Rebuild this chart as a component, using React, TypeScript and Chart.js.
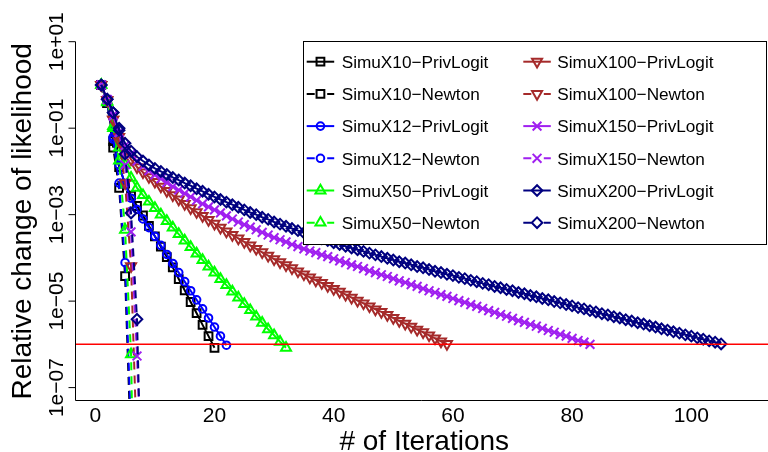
import React, { useEffect, useRef } from 'react';
import { Chart, registerables } from 'chart.js';
import { drawPoint } from 'chart.js/helpers';

Chart.register(...registerables);

// ---------- data (log10 of relative change of likelihood, iteration = index + 1) ----------
const x10PrivLogit = [0, -0.42, -1.3, -1.9, -2.28, -2.56, -2.8, -3.02, -3.26, -3.5, -3.74, -3.98, -4.22, -4.49, -4.75, -5.02, -5.28, -5.55, -5.81, -6.08];
const x10Newton = [0, -0.42, -1.45, -2.38, -4.42, -8.5];
const x12PrivLogit = [0, -0.4, -1.2, -1.85, -2.3, -2.62, -2.88, -3.1, -3.3, -3.5, -3.71, -3.92, -4.13, -4.34, -4.55, -4.76, -4.97, -5.18, -5.39, -5.6, -5.81, -6.02];
const x12Newton = [0, -0.4, -1.25, -2.27, -4.11, -8.0];
const x50PrivLogit = [0, -0.4, -0.95, -1.45, -1.85, -2.15, -2.38, -2.55, -2.7, -2.85, -3.0, -3.15, -3.3, -3.45, -3.6, -3.75, -3.9, -4.05, -4.2, -4.34, -4.49, -4.63, -4.78, -4.92, -5.07, -5.21, -5.36, -5.5, -5.65, -5.79, -5.94, -6.08];
const x50Newton = [0, -0.38, -1.0, -1.75, -3.35, -6.23, -14];
const x100PrivLogit = [0, -0.35, -0.8, -1.2, -1.5, -1.72, -1.9, -2.02, -2.13, -2.24, -2.35, -2.45, -2.55, -2.65, -2.75, -2.85, -2.94, -3.03, -3.12, -3.21, -3.3, -3.39, -3.47, -3.55, -3.63, -3.71, -3.79, -3.87, -3.95, -4.03, -4.1, -4.17, -4.24, -4.31, -4.38, -4.45, -4.52, -4.58, -4.65, -4.72, -4.78, -4.85, -4.92, -4.99, -5.05, -5.12, -5.19, -5.25, -5.32, -5.39, -5.46, -5.52, -5.59, -5.66, -5.72, -5.79, -5.86, -5.93, -5.99];
const x100Newton = [0, -0.35, -0.8, -1.3, -2.27, -4.19, -8.5];
const x150PrivLogit = [0, -0.34, -0.72, -1.1, -1.4, -1.6, -1.76, -1.88, -1.98, -2.08, -2.17, -2.26, -2.35, -2.43, -2.51, -2.59, -2.67, -2.75, -2.82, -2.89, -2.96, -3.03, -3.1, -3.17, -3.23, -3.29, -3.35, -3.41, -3.47, -3.53, -3.58, -3.63, -3.69, -3.74, -3.79, -3.84, -3.88, -3.93, -3.97, -4.02, -4.07, -4.11, -4.16, -4.2, -4.25, -4.3, -4.34, -4.39, -4.43, -4.48, -4.53, -4.57, -4.62, -4.66, -4.71, -4.76, -4.8, -4.85, -4.89, -4.94, -4.99, -5.03, -5.08, -5.12, -5.17, -5.22, -5.26, -5.31, -5.35, -5.4, -5.45, -5.49, -5.54, -5.58, -5.63, -5.68, -5.72, -5.77, -5.81, -5.86, -5.91, -5.95, -6.0];
const x150Newton = [0, -0.34, -0.7, -1.1, -1.85, -3.4, -6.27, -10];
const x200PrivLogit = [0, -0.33, -0.64, -1.05, -1.35, -1.53, -1.66, -1.76, -1.85, -1.93, -2.0, -2.07, -2.14, -2.2, -2.27, -2.33, -2.4, -2.46, -2.53, -2.59, -2.65, -2.71, -2.77, -2.83, -2.89, -2.95, -3.0, -3.06, -3.11, -3.17, -3.22, -3.27, -3.32, -3.37, -3.42, -3.47, -3.51, -3.56, -3.6, -3.65, -3.69, -3.73, -3.77, -3.81, -3.85, -3.89, -3.93, -3.97, -4.01, -4.05, -4.09, -4.12, -4.16, -4.2, -4.23, -4.27, -4.31, -4.34, -4.38, -4.41, -4.45, -4.48, -4.52, -4.55, -4.59, -4.62, -4.66, -4.69, -4.73, -4.76, -4.8, -4.83, -4.87, -4.9, -4.94, -4.97, -5.01, -5.04, -5.08, -5.11, -5.15, -5.18, -5.22, -5.25, -5.29, -5.32, -5.36, -5.39, -5.43, -5.46, -5.5, -5.53, -5.57, -5.6, -5.64, -5.67, -5.71, -5.74, -5.78, -5.81, -5.85, -5.88, -5.92, -5.95, -5.99];
const x200Newton = [0, -0.33, -0.64, -1.0, -1.6, -2.96, -5.42, -11];

const seriesLabels = [
  'SimuX10\u2212PrivLogit', 'SimuX10\u2212Newton',
  'SimuX12\u2212PrivLogit', 'SimuX12\u2212Newton',
  'SimuX50\u2212PrivLogit', 'SimuX50\u2212Newton',
  'SimuX100\u2212PrivLogit', 'SimuX100\u2212Newton',
  'SimuX150\u2212PrivLogit', 'SimuX150\u2212Newton',
  'SimuX200\u2212PrivLogit', 'SimuX200\u2212Newton',
];
const seriesValues = [
  x10PrivLogit, x10Newton, x12PrivLogit, x12Newton, x50PrivLogit, x50Newton,
  x100PrivLogit, x100Newton, x150PrivLogit, x150Newton, x200PrivLogit, x200Newton,
];
const threshold = 1e-6;
const xTickValues = [0, 20, 40, 60, 80, 100];
const yTickValues = [1e1, 1e-1, 1e-3, 1e-5, 1e-7];
const yTickLabels = ['1e+01', '1e\u221201', '1e\u221203', '1e\u221205', '1e\u221207'];
const xTitle = '# of Iterations';
const yTitle = 'Relative change of likelihood';

// ---------- styles ----------
const FONT = '"Liberation Sans", Arial, Helvetica, sans-serif';
const seriesColors = ['#000000', '#000000', '#0000FF', '#0000FF', '#00FF00', '#00FF00', '#A52A2A', '#A52A2A', '#A020F0', '#A020F0', '#000080', '#000080'];
const markerStyles = ['rect', 'rect', 'circle', 'circle', 'triangle', 'triangle', 'triangle', 'triangle', 'crossRot', 'crossRot', 'rectRot', 'rectRot'];
const markerRadius = [5.5, 5.5, 3.8, 3.8, 5.8, 5.8, 5.8, 5.8, 6.2, 6.2, 5.3, 5.3];
const markerRotation = [0, 0, 0, 0, 0, 0, 180, 180, 0, 0, 0, 0];
const isDashed = (i: number) => i % 2 === 1;
const DASH = [8, 6];

const thresholdPlugin = {
  id: 'thresholdLine',
  afterDatasetsDraw(chart: any) {
    const { ctx, chartArea: a, scales } = chart;
    const y = scales.y.getPixelForValue(threshold);
    ctx.save();
    ctx.strokeStyle = '#FF0000';
    ctx.lineWidth = 1.5;
    ctx.beginPath();
    ctx.moveTo(a.left, y);
    ctx.lineTo(chart.width, y);
    ctx.stroke();
    ctx.restore();
  },
};

const legendPlugin = {
  id: 'rLegend',
  afterDraw(chart: any) {
    const { ctx, chartArea: a } = chart;
    const boxL = 303.5, boxT = 41.5, boxR = Math.round(a.right) - 0.5, boxB = 244.5;
    ctx.save();
    ctx.fillStyle = '#FFFFFF';
    ctx.fillRect(boxL, boxT, boxR - boxL, boxB - boxT);
    ctx.strokeStyle = '#000000';
    ctx.lineWidth = 1;
    ctx.strokeRect(boxL, boxT, boxR - boxL, boxB - boxT);
    const colSample = [306.7, 523.3];
    const sampleW = 27.5;
    const colText = [341.7, 557.3];
    const rowY0 = 61.7, rowH = 32.2;
    ctx.font = `17.2px ${FONT}`;
    ctx.textAlign = 'left';
    ctx.textBaseline = 'alphabetic';
    seriesLabels.forEach((label, i) => {
      const col = i < 6 ? 0 : 1;
      const row = i % 6;
      const y = rowY0 + row * rowH;
      const x0 = colSample[col], x1 = x0 + sampleW, xm = (x0 + x1) / 2;
      ctx.strokeStyle = seriesColors[i];
      ctx.lineWidth = 2;
      ctx.setLineDash([]);
      ctx.beginPath();
      if (isDashed(i)) {
        ctx.moveTo(x0, y); ctx.lineTo(x0 + 8, y);
        ctx.moveTo(x1 - 7, y); ctx.lineTo(x1, y);
      } else {
        ctx.moveTo(x0, y); ctx.lineTo(x1, y);
      }
      ctx.stroke();
      ctx.fillStyle = 'rgba(0,0,0,0)';
      drawPoint(ctx, { pointStyle: markerStyles[i], radius: markerRadius[i], rotation: markerRotation[i], borderWidth: 2 } as any, xm, y);
      ctx.fillStyle = '#000000';
      ctx.fillText(label, colText[col], y + 6.3);
    });
    ctx.restore();
  },
};

const axesPlugin = {
  id: 'rAxes',
  afterDraw(chart: any) {
    const { ctx, chartArea: a, scales } = chart;
    const xs = scales.x, ys = scales.y;
    const left = Math.round(a.left) - 0.5;
    const bottom = Math.round(a.bottom) - 0.5;
    ctx.save();
    ctx.strokeStyle = '#000000';
    ctx.lineWidth = 1;
    ctx.setLineDash([]);
    ctx.beginPath();
    ctx.moveTo(left, a.top);
    ctx.lineTo(left, bottom);
    ctx.lineTo(chart.width, bottom);
    ctx.stroke();
    // y ticks
    ctx.beginPath();
    yTickValues.forEach((v) => {
      const y = ys.getPixelForValue(v);
      ctx.moveTo(left - 7, y);
      ctx.lineTo(left, y);
    });
    ctx.stroke();
    ctx.fillStyle = '#000000';
    ctx.font = `21px ${FONT}`;
    ctx.textAlign = 'center';
    ctx.textBaseline = 'alphabetic';
    yTickValues.forEach((v, i) => {
      const y = ys.getPixelForValue(v);
      ctx.save();
      ctx.translate(63.3, y);
      ctx.rotate(-Math.PI / 2);
      ctx.fillText(yTickLabels[i], 0, 0);
      ctx.restore();
    });
    xTickValues.forEach((v) => {
      ctx.fillText(String(v), xs.getPixelForValue(v), 421.7);
    });
    ctx.font = `28px ${FONT}`;
    ctx.fillText(xTitle, (a.left + a.right) / 2 + 3, 449.5);
    ctx.save();
    ctx.translate(31, (a.top + a.bottom) / 2);
    ctx.rotate(-Math.PI / 2);
    ctx.fillText(yTitle, 0, 0);
    ctx.restore();
    ctx.restore();
  },
};

export default function App() {
  const canvasRef = useRef<HTMLCanvasElement | null>(null);
  useEffect(() => {
    const canvas = canvasRef.current;
    if (!canvas) return;
    const n = seriesValues.length;
    const datasets = seriesValues.map((vals, i) => ({
      label: seriesLabels[i],
      data: vals.map((e, k) => ({ x: k + 1, y: Math.pow(10, e) })),
      borderColor: seriesColors[i],
      backgroundColor: 'rgba(0,0,0,0)',
      borderWidth: 2,
      borderDash: isDashed(i) ? DASH : [],
      pointStyle: markerStyles[i],
      pointRadius: markerRadius[i],
      pointRotation: markerRotation[i],
      pointBorderWidth: 2,
      pointBorderColor: seriesColors[i],
      pointBackgroundColor: 'rgba(0,0,0,0)',
      tension: 0,
      fill: false,
      order: n - i,
    }));
    const chart = new Chart(canvas, {
      type: 'line',
      data: { datasets },
      options: {
        responsive: false,
        animation: false,
        devicePixelRatio: 1,
        layout: { autoPadding: false, padding: { left: 75.5, top: 41.7, right: 1, bottom: 51 } },
        scales: {
          x: { type: 'linear', min: -3.32, max: 112.7, display: false },
          y: { type: 'logarithmic', min: Math.pow(10, -7.31), max: 10, display: false },
        },
        plugins: { legend: { display: false }, tooltip: { enabled: false } },
      },
      plugins: [thresholdPlugin, legendPlugin, axesPlugin],
    } as any);
    return () => chart.destroy();
  }, []);
  return (
    <div style={{ position: 'fixed', left: 0, top: 0, width: 768, height: 452, background: '#fff' }}>
      <canvas ref={canvasRef} width={768} height={452} style={{ display: 'block' }} />
    </div>
  );
}
